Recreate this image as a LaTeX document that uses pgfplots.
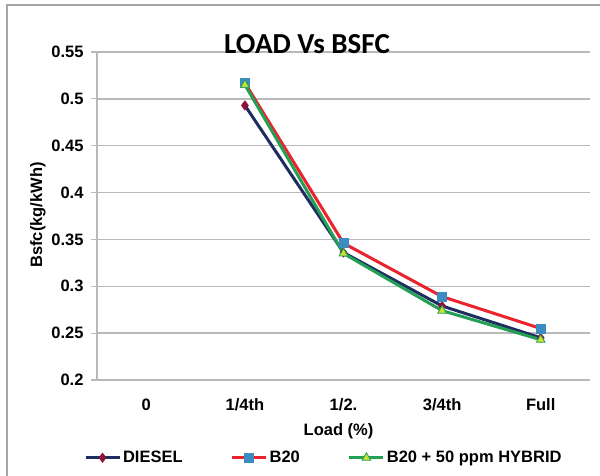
\documentclass[border=0pt]{standalone}
\usepackage{pgfplots}
\pgfplotsset{compat=1.18}
\usepackage{fontspec}
\setmainfont{Liberation Sans}
\newfontfamily\titlefont{Carlito}

\definecolor{dieselline}{RGB}{30,45,95}
\definecolor{dieselmark}{RGB}{140,20,60}
\definecolor{bline}{RGB}{235,35,45}
\definecolor{bmark}{RGB}{60,140,195}
\definecolor{hline}{RGB}{35,160,85}
\definecolor{hmark}{RGB}{200,225,50}
\definecolor{gridgray}{RGB}{185,185,185}

\begin{document}
\begin{tikzpicture}[x=1pt,y=1pt]
\useasboundingbox (0,0) rectangle (600,475);
\fill[white] (0,0) rectangle (600,475);
\draw[gray!70, line width=1.5pt] (7,-10) rectangle (620,470);
\begin{axis}[
    at={(97pt,95pt)}, anchor=south west,
    scale only axis, width=493pt, height=328pt,
    xmin=-0.5, xmax=4.5, ymin=0.2, ymax=0.55,
    xtick={0,1,2,3,4},
    xticklabels={0,1/4th,1/2.,3/4th,Full},
    ytick={0.2,0.25,0.3,0.35,0.4,0.45,0.5,0.55},
    yticklabel style={/pgf/number format/fixed, /pgf/number format/precision=2, xshift=-4pt},
    xticklabel style={yshift=-9pt},
    /pgf/number format/assume math mode=true,
    ticklabel style={font=\fontsize{16.5}{19}\selectfont\bfseries},
    axis x line*=bottom, axis y line*=left,
    axis line style={gridgray, line width=1.5pt},
    ymajorgrids, grid style={gridgray, line width=1.5pt},
    xtick style={draw=none},
    ytick style={gridgray, line width=1.2pt},
    tick align=outside, major tick length=6pt,
    xlabel={Load (\%)},
    xlabel style={at={(axis description cs:0.49,-0.155)}, anchor=center, font=\fontsize{16.5}{19}\selectfont\bfseries},
    ylabel={Bsfc(kg/kWh)},
    ylabel style={at={(axis description cs:-0.12,0.503)}, anchor=center, font=\fontsize{16.5}{19}\selectfont\bfseries},
    title={LOAD Vs BSFC},
    title style={at={(axis description cs:0.426,1.006)}, anchor=center, font=\fontsize{29}{33}\selectfont\titlefont\bfseries},
    legend columns=3,
    legend style={at={(axis description cs:0.46,-0.237)}, anchor=center, draw=none, fill=none,
        font=\fontsize{16.5}{19}\selectfont\bfseries, /tikz/every even column/.append style={column sep=46pt}},
    legend image code/.code={%
        \draw[#1, line width=3pt] (0pt,0pt) -- (34pt,0pt);
        \draw[#1, only marks] plot coordinates {(17pt,0pt)};},
]
\addplot[dieselline, line width=3pt, mark=diamond*, mark size=4.5pt,
    mark options={fill=dieselmark, draw=dieselmark, line width=0.8pt}]
    coordinates {(1,0.493) (2,0.336) (3,0.279) (4,0.245)};
\addplot[bline, line width=3pt, mark=square*, mark size=4.5pt,
    mark options={fill=bmark, draw=bmark, line width=0.8pt}]
    coordinates {(1,0.517) (2,0.346) (3,0.289) (4,0.255)};
\addplot[hline, line width=3pt, mark=triangle*, mark size=5pt,
    mark options={fill=hmark, draw=hline, line width=0.8pt}]
    coordinates {(1,0.515) (2,0.335) (3,0.274) (4,0.243)};
\legend{DIESEL,B20,B20 + 50 ppm HYBRID}
\end{axis}
\end{tikzpicture}
\end{document}
